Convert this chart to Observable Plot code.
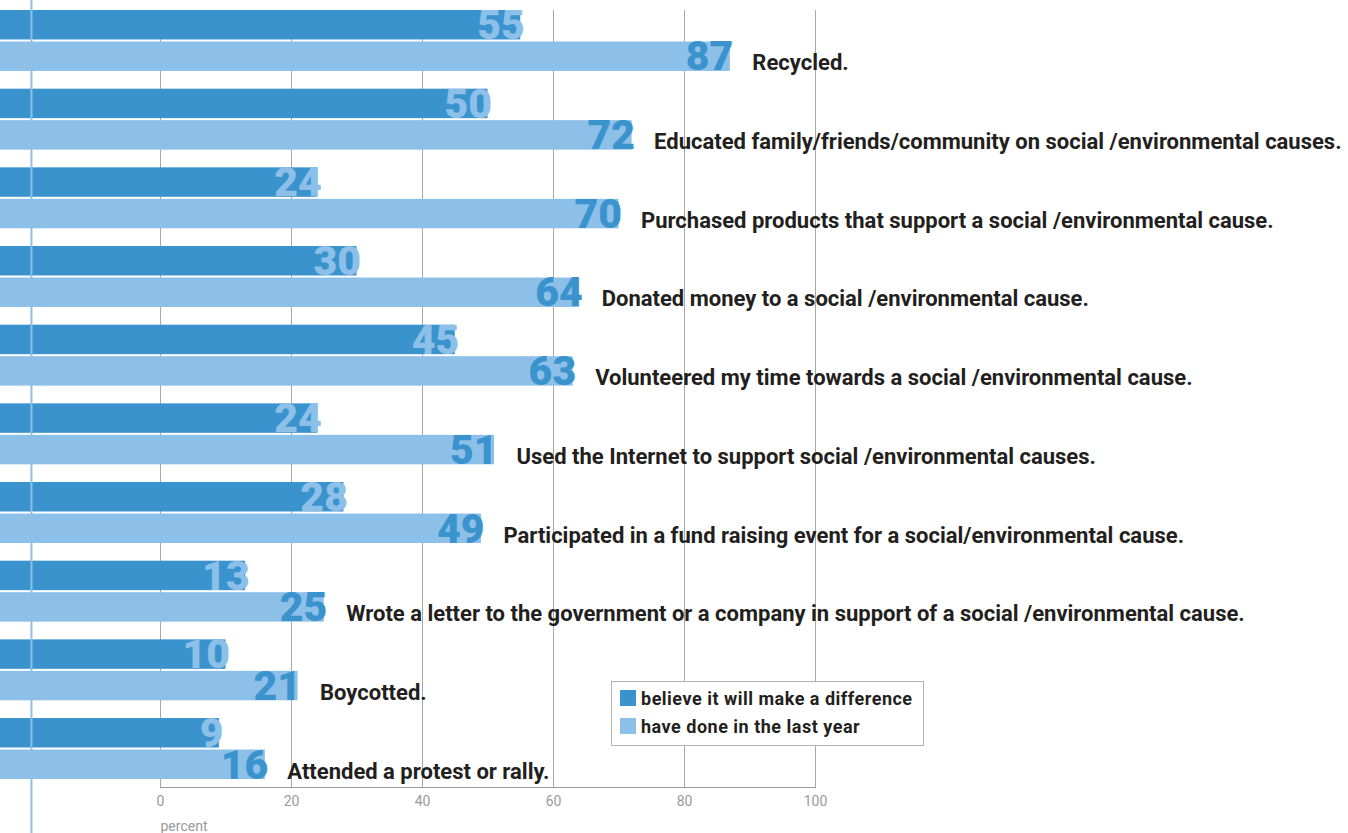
<!DOCTYPE html>
<html>
<head>
<meta charset="utf-8">
<script src="https://cdn.jsdelivr.net/npm/d3@7"></script>
<script src="https://cdn.jsdelivr.net/npm/@observablehq/plot@0.6"></script>
<style>
  html, body { margin: 0; padding: 0; background: #fff; }
  #wrap { position: relative; width: 1348px; height: 833px; overflow: hidden; }
  #legend {
    position: absolute; left: 611px; top: 681px; width: 311px; height: 63px;
    border: 1px solid #b3b3b3; background: #fff;
    font-family: Roboto, "DejaVu Sans", sans-serif; font-weight: bold; font-size: 18px;
    letter-spacing: 0.5px; color: #231f20;
  }
  .item { position: absolute; left: 8px; height: 17px; line-height: 17px; white-space: nowrap; }
  .sw { display: inline-block; width: 16px; height: 16px; vertical-align: top; margin-right: 5px; }
</style>
</head>
<body>
<div id="wrap">
  <div id="chart"></div>
  <div id="legend"></div>
</div>
<script>
const categories = [
  "Recycled.",
  "Educated family/friends/community on social /environmental causes.",
  "Purchased products that support a social /environmental cause.",
  "Donated money to a social /environmental cause.",
  "Volunteered my time towards a social /environmental cause.",
  "Used the Internet to support social /environmental causes.",
  "Participated in a fund raising event for a social/environmental cause.",
  "Wrote a letter to the government or a company in support of a social /environmental cause.",
  "Boycotted.",
  "Attended a protest or rally."
];
const believe = [55, 50, 24, 30, 45, 24, 28, 13, 10, 9];
const done = [87, 72, 70, 64, 63, 51, 49, 25, 21, 16];
const seriesNames = ["believe it will make a difference", "have done in the last year"];
const xTicks = [0, 20, 40, 60, 80, 100];
const axisLabel = "percent";

const darkBlue = "#3b93cd";
const lightBlue = "#8dc0e8";
const ink = "#231f20";
const barBase = -24.5;      // bars run in from the left edge
const leftRule = -19.7;     // light blue vertical rule near the left edge

const data = categories.map((c, i) => ({category: c, believe: believe[i], done: done[i]}));

const numFont = 'Roboto, "DejaVu Sans Condensed", sans-serif';
const labFont = 'Roboto, "DejaVu Sans", sans-serif';

const chart = Plot.plot({
  width: 1348,
  height: 833,
  marginTop: 10,
  marginBottom: 46,
  marginLeft: 160,
  marginRight: 533,
  style: {background: "#fff", fontFamily: labFont, overflow: "hidden"},
  x: {domain: [0, 100]},
  y: {domain: categories, range: [10, 779], paddingInner: 0.225, paddingOuter: 0, round: false, axis: null},
  marks: [
    Plot.ruleX(xTicks, {stroke: "#a8a8a8", strokeWidth: 1}),
    Plot.frame({anchor: "bottom", stroke: "#9a9a9a"}),
    Plot.axisX({ticks: xTicks, tickSize: 0, tickPadding: 9, fontSize: 14, fill: "#9a9a9a", label: null}),
    Plot.text([axisLabel], {frameAnchor: "bottom-left", textAnchor: "start", lineAnchor: "bottom", dy: 43, fontSize: 14, fill: "#9a9a9a"}),
    Plot.barX(data, {x1: barBase, x2: "believe", y: "category", fill: darkBlue, insetBottom: 31.5}),
    Plot.barX(data, {x1: barBase, x2: "done", y: "category", fill: lightBlue, insetTop: 31.5}),
    Plot.ruleX([leftRule], {stroke: lightBlue, strokeWidth: 2, insetTop: -10, insetBottom: -46}),
    Plot.text(data, {x: "believe", y: "category", text: d => String(d.believe), textAnchor: "end", lineAnchor: "bottom",
      dx: 4, dy: -2, fill: lightBlue, fontSize: 41, fontWeight: 900, fontFamily: numFont}),
    Plot.text(data, {x: "done", y: "category", text: d => String(d.done), textAnchor: "end", lineAnchor: "bottom",
      dx: 3, dy: 29.5, fill: darkBlue, fontSize: 41, fontWeight: 900, fontFamily: numFont}),
    Plot.text(data, {x: "done", y: "category", text: "category", textAnchor: "start", lineAnchor: "bottom",
      dx: 22, dy: 29.5, fill: ink, fontSize: 22, fontWeight: "bold", fontFamily: labFont})
  ]
});
document.getElementById("chart").appendChild(chart);

const legend = document.getElementById("legend");
[darkBlue, lightBlue].forEach((col, i) => {
  const it = document.createElement("div");
  it.className = "item";
  it.style.top = (8 + i * 28) + "px";
  const sw = document.createElement("span");
  sw.className = "sw";
  sw.style.background = col;
  it.appendChild(sw);
  it.appendChild(document.createTextNode(seriesNames[i]));
  legend.appendChild(it);
});
</script>
</body>
</html>
